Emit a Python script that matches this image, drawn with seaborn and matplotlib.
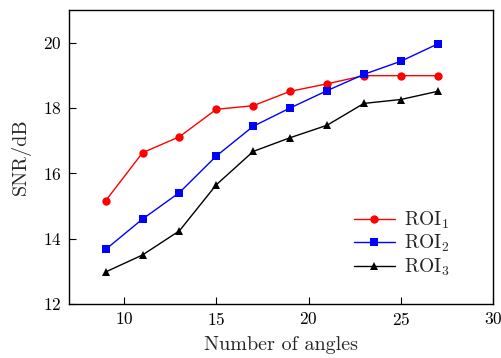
import numpy as np
import pandas as pd
import matplotlib
matplotlib.use("Agg")
import matplotlib.pyplot as plt
import seaborn as sns

# --- data ---
angles = [9, 11, 13, 15, 17, 19, 21, 23, 25, 27]
roi1 = [15.16, 16.63, 17.12, 17.96, 18.07, 18.51, 18.74, 18.99, 18.99, 18.99]
roi2 = [13.67, 14.60, 15.41, 16.53, 17.44, 18.00, 18.53, 19.03, 19.43, 19.96]
roi3 = [12.98, 13.50, 14.24, 15.65, 16.67, 17.09, 17.47, 18.14, 18.26, 18.51]
labels = ["ROI$_1$", "ROI$_2$", "ROI$_3$"]
colors = ["#ff0000", "#0000ff", "#000000"]

sns.set_style("ticks")
plt.rcParams["font.family"] = ["cmr10", "DejaVu Serif"]
plt.rcParams["mathtext.fontset"] = "cm"
plt.rcParams["axes.formatter.use_mathtext"] = True
plt.rcParams["xtick.direction"] = "in"
plt.rcParams["ytick.direction"] = "in"

rows = []
for lab, vals in zip(labels, [roi1, roi2, roi3]):
    for a, v in zip(angles, vals):
        rows.append({"Angles": a, "SNR": v, "ROI": lab})
df = pd.DataFrame(rows)

fig = plt.figure(figsize=(5.02, 3.58), dpi=100)
ax = fig.add_axes([0.137, 0.151, 0.845, 0.821])

sns.lineplot(data=df, x="Angles", y="SNR", hue="ROI", style="ROI",
             palette=colors, markers=["o", "s", "^"], dashes=False,
             markersize=6, linewidth=1.0, markeredgewidth=0, ax=ax)

ax.set_xlim(7, 30)
ax.set_ylim(12, 21)
ax.set_xticks([10, 15, 20, 25, 30])
ax.set_yticks([12, 14, 16, 18, 20])
ax.tick_params(labelsize=12.5, length=5, width=0.8, colors="black", pad=5)
ax.set_xlabel("Number of angles", fontsize=14.5, labelpad=6)
ax.set_ylabel("SNR/dB", fontsize=14.5, labelpad=9)
for s in ax.spines.values():
    s.set_linewidth(1.0)
    s.set_color("black")

leg = ax.legend(loc="lower right", bbox_to_anchor=(0.94, 0.03), frameon=False,
                fontsize=14, handlelength=2.1, handletextpad=0.5,
                labelspacing=0.1)

fig.savefig("out.png", dpi=100)
